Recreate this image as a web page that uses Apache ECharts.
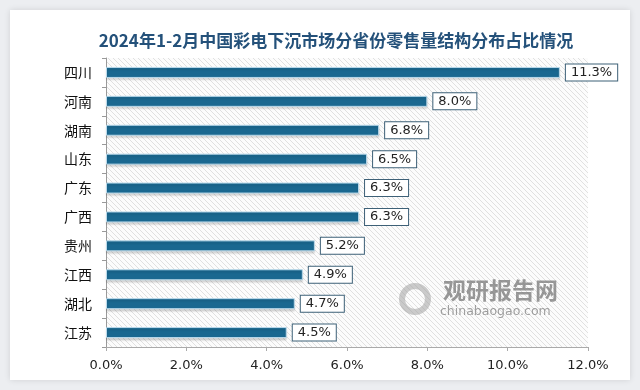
<!DOCTYPE html>
<html>
<head>
<meta charset="utf-8">
<script src="https://cdn.jsdelivr.net/npm/echarts@6/dist/echarts.min.js"></script>
<style>
html,body{margin:0;padding:0;background:#eceef1;}
#card{position:absolute;left:10px;top:10px;width:620px;height:370px;background:#fff;box-shadow:0 0 6px rgba(0,0,0,0.12);}
#chart{position:absolute;left:0;top:0;width:640px;height:390px;}
</style>
</head>
<body>
<div id="card"></div>
<div id="chart"></div>
<script>
const titleText = '2024年1-2月中国彩电下沉市场分省份零售量结构分布占比情况';
const categories = ['四川','河南','湖南','山东','广东','广西','贵州','江西','湖北','江苏'];
const values = [11.3, 8.0, 6.8, 6.5, 6.3, 6.3, 5.2, 4.9, 4.7, 4.5];
const xTicks = [0, 2, 4, 6, 8, 10, 12];

function makePattern(){
  const c = document.createElement('canvas');
  c.width = 5; c.height = 5;
  const g = c.getContext('2d');
  g.fillStyle = '#fcfcfc';
  g.fillRect(0,0,5,5);
  g.strokeStyle = '#e0e0e0';
  g.lineWidth = 1;
  g.beginPath();
  g.moveTo(-1,-1); g.lineTo(6,6);
  g.moveTo(-1,4); g.lineTo(1,6);
  g.moveTo(4,-1); g.lineTo(6,1);
  g.stroke();
  return c;
}

const chart = echarts.init(document.getElementById('chart'), null, {renderer:'canvas'});
chart.setOption({
  backgroundColor: 'transparent',
  animation: false,
  title: {
    text: titleText,
    left: 331, top: 27, textAlign: 'center',
    textStyle: {fontFamily: '"Noto Sans CJK SC"', fontWeight: 'bold', fontSize: 17, color: '#24517a'}
  },
  grid: {
    left: 106, right: 52, top: 58, bottom: 43,
    show: true, borderWidth: 0,
    backgroundColor: {image: makePattern(), repeat: 'repeat'}
  },
  xAxis: {
    type: 'value', min: xTicks[0], max: xTicks[xTicks.length-1], interval: 2,
    axisLine: {show: true, lineStyle: {color: '#aaaaaa'}},
    axisTick: {show: true, length: 4, lineStyle: {color: '#aaaaaa'}},
    splitLine: {show: false},
    axisLabel: {
      formatter: v => v.toFixed(1) + '%',
      fontSize: 13, color: '#222', margin: 12,
      fontFamily: '"DejaVu Sans", sans-serif'
    }
  },
  yAxis: {
    type: 'category', data: categories, inverse: true,
    axisLine: {show: true, lineStyle: {color: '#999999'}},
    axisTick: {show: true, length: 4, lineStyle: {color: '#999999'}},
    axisLabel: {fontSize: 14, color: '#111', margin: 14, fontFamily: '"Noto Sans CJK SC"'}
  },
  series: [{
    type: 'bar',
    data: values,
    barWidth: 11,
    itemStyle: {
      color: '#1a6890',
      borderColor: '#b9d9ea', borderWidth: 1,
      shadowColor: 'rgba(0,0,0,0.15)', shadowBlur: 2, shadowOffsetY: 2
    },
    label: {
      show: true, position: 'right', distance: 6,
      formatter: p => p.value.toFixed(1) + '%',
      backgroundColor: '#ffffff', borderColor: '#3d6077', borderWidth: 1,
      padding: [2, 5, 1, 5], fontSize: 13, color: '#222',
      fontFamily: '"DejaVu Sans", sans-serif'
    }
  }],
  graphic: [
    {type: 'text', left: 443, top: 279, style: {text: '观研报告网', font: 'bold 23px "Noto Sans CJK SC"', fill: 'rgba(110,110,110,0.7)'}},
    {type: 'text', left: 440, top: 305, style: {text: 'chinabaogao.com', font: '12.5px "DejaVu Sans"', fill: 'rgba(120,120,120,0.7)'}},
    {type: 'ring', shape: {cx: 415, cy: 299, r: 16, r0: 10}, style: {fill: 'rgba(160,160,160,0.55)'}}
  ]
});
</script>
</body>
</html>
